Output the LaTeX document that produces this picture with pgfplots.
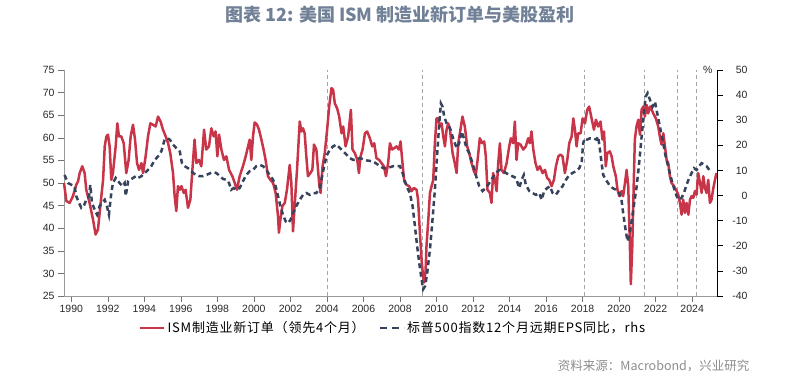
\documentclass[border=0pt]{standalone}
\usepackage{pgfplots}
\pgfplotsset{compat=1.18}
\usepackage{fontspec}
\setmainfont{Liberation Sans}
\newfontfamily\cjk{Noto Sans CJK SC}
\newfontfamily\cjkleg[LetterSpace=6]{Noto Sans CJK SC}
\definecolor{ismred}{RGB}{200,52,72}
\definecolor{epsblue}{RGB}{55,66,92}
\definecolor{titlecol}{RGB}{112,128,150}
\definecolor{srccol}{RGB}{140,140,140}
\definecolor{ticktxt}{RGB}{40,40,40}
\begin{document}
\begin{tikzpicture}
\path[use as bounding box] (0,0) rectangle (801bp,-379bp);
\node[font={\cjk\bfseries\fontsize{18bp}{20bp}\selectfont}, text=titlecol] at (400bp,-15bp) {图表 12: 美国 ISM 制造业新订单与美股盈利};
\node[font={\cjk\fontsize{12.5bp}{14bp}\selectfont}, text=srccol, anchor=east] at (753bp,-366bp) {资料来源：Macrobond，兴业研究};
\begin{axis}[
  at={(64bp,-296bp)}, anchor=south west,
  width=653bp, height=226bp, scale only axis,
  xmin=1989.6, xmax=2025.36, ymin=25, ymax=75,
  axis x line*=bottom, axis y line*=left,
  x axis line style={-, draw=gray!80}, y axis line style={-, draw=gray!80},
  tick align=outside, major tick length=6bp,
  tick style={draw=gray!90!black, line width=0.6bp},
  xtick={1990,1992,...,2024}, ytick={25,30,...,75},
  /pgf/number format/assume math mode=true,
  /pgf/number format/1000 sep={},
  ticklabel style={font=\fontsize{10.5bp}{12bp}\selectfont, text=ticktxt},
  legend style={at={(0.504,-0.141)}, anchor=center, draw=none, fill=none,
    legend columns=2, font={\cjkleg\fontsize{13bp}{15bp}\selectfont},
    /tikz/every even column/.append style={column sep=12bp}},
  legend image code/.code={\draw[#1] (0bp,0bp) -- (24bp,0bp);},
  clip=false,
]
\addplot[gray!70, line width=0.8bp, dash pattern=on 4bp off 3bp, forget plot] coordinates {(2004.05,25) (2004.05,75)};
\addplot[gray!70, line width=0.8bp, dash pattern=on 4bp off 3bp, forget plot] coordinates {(2009.2,25) (2009.2,75)};
\addplot[gray!70, line width=0.8bp, dash pattern=on 4bp off 3bp, forget plot] coordinates {(2018.1,25) (2018.1,75)};
\addplot[gray!70, line width=0.8bp, dash pattern=on 4bp off 3bp, forget plot] coordinates {(2021.4,25) (2021.4,75)};
\addplot[gray!70, line width=0.8bp, dash pattern=on 4bp off 3bp, forget plot] coordinates {(2023.2,25) (2023.2,75)};
\addplot[gray!70, line width=0.8bp, dash pattern=on 4bp off 3bp, forget plot] coordinates {(2024.25,25) (2024.25,75)};
\addplot[ismred, line width=2.5bp, line join=round] table {
1989.6 50.0
1989.73 46.0
1989.91 45.6
1990.09 47.1
1990.27 49.6
1990.37 50.4
1990.46 52.2
1990.60 53.7
1990.73 52.2
1990.82 48.5
1991.00 45.6
1991.19 41.9
1991.33 38.6
1991.46 39.7
1991.59 44.9
1991.74 50.7
1991.83 58.1
1991.92 60.3
1992.01 60.7
1992.10 58.1
1992.19 50.7
1992.28 52.2
1992.43 58.1
1992.52 63.2
1992.61 60.3
1992.74 60.3
1992.87 58.8
1993.01 52.2
1993.14 55.1
1993.25 60.3
1993.38 62.9
1993.49 59.6
1993.60 54.4
1993.71 52.9
1993.84 54.4
1993.93 52.2
1994.07 55.9
1994.20 60.3
1994.33 63.2
1994.47 62.9
1994.62 62.5
1994.75 64.7
1994.89 63.6
1995.02 61.8
1995.17 60.3
1995.30 58.8
1995.42 56.6
1995.57 52.2
1995.66 47.1
1995.75 43.8
1995.84 49.3
1995.94 48.5
1996.03 49.3
1996.16 47.8
1996.26 48.5
1996.39 44.5
1996.52 46.3
1996.63 52.9
1996.75 59.6
1996.85 54.4
1996.99 55.1
1997.12 53.7
1997.27 61.8
1997.39 57.4
1997.54 58.1
1997.67 62.1
1997.80 60.3
1997.90 61.4
1998.00 55.9
1998.09 60.7
1998.22 57.4
1998.36 55.1
1998.49 55.9
1998.64 52.9
1998.82 51.5
1998.95 50.0
1999.07 48.5
1999.22 51.5
1999.40 53.7
1999.55 55.9
1999.68 58.1
1999.77 59.6
1999.86 55.1
1999.95 60.3
2000.04 63.4
2000.17 62.9
2000.28 61.8
2000.41 59.6
2000.53 57.4
2000.64 55.1
2000.77 51.5
2000.90 50.7
2001.05 50.0
2001.19 47.8
2001.32 42.6
2001.37 39.0
2001.45 41.9
2001.56 44.9
2001.69 45.6
2001.81 48.5
2001.96 54.0
2002.05 50.0
2002.14 39.3
2002.23 44.9
2002.36 52.9
2002.51 63.6
2002.60 61.4
2002.69 62.1
2002.78 61.0
2002.87 55.9
2002.96 51.5
2003.09 52.2
2003.20 52.9
2003.29 58.5
2003.42 57.4
2003.57 50.0
2003.65 47.8
2003.76 53.7
2003.88 56.6
2004.01 61.8
2004.12 66.9
2004.25 71.0
2004.34 70.6
2004.43 67.6
2004.56 66.5
2004.67 64.7
2004.80 61.0
2004.89 62.5
2005.02 58.1
2005.16 60.3
2005.31 66.2
2005.40 57.4
2005.53 56.6
2005.66 55.1
2005.75 52.2
2005.84 55.9
2005.95 57.4
2006.08 61.0
2006.20 61.4
2006.35 59.9
2006.48 58.1
2006.59 58.8
2006.71 55.5
2006.86 55.1
2006.99 54.4
2007.12 53.7
2007.23 51.5
2007.35 54.4
2007.45 58.8
2007.57 57.4
2007.68 57.7
2007.81 58.1
2007.94 57.4
2008.03 59.2
2008.12 55.1
2008.23 50.4
2008.36 49.6
2008.50 49.3
2008.63 48.2
2008.76 48.9
2008.91 48.5
2008.99 46.3
2009.09 39.0
2009.18 33.1
2009.27 29.0
2009.33 28.0
2009.40 30.5
2009.45 36.0
2009.55 41.9
2009.64 47.8
2009.73 49.3
2009.82 50.7
2009.91 58.8
2010.00 64.3
2010.09 64.3
2010.19 62.5
2010.28 63.2
2010.37 60.3
2010.46 58.1
2010.55 61.8
2010.64 63.2
2010.73 62.0
2010.88 56.6
2011.00 54.4
2011.10 52.2
2011.19 58.8
2011.31 61.8
2011.42 64.7
2011.55 62.5
2011.68 58.1
2011.79 56.6
2011.92 54.4
2012.05 52.6
2012.15 51.8
2012.25 55.1
2012.37 59.9
2012.50 58.8
2012.61 59.2
2012.70 55.9
2012.79 48.5
2012.92 47.8
2013.01 45.6
2013.10 52.2
2013.20 50.7
2013.29 48.2
2013.38 54.4
2013.47 58.8
2013.56 52.9
2013.69 52.2
2013.84 54.4
2013.98 58.1
2014.07 59.9
2014.20 58.8
2014.29 63.6
2014.38 55.1
2014.47 58.8
2014.60 58.5
2014.75 57.4
2014.89 58.1
2015.02 59.9
2015.11 58.8
2015.20 61.4
2015.30 57.4
2015.42 54.4
2015.53 52.9
2015.66 53.7
2015.81 52.2
2015.94 52.9
2016.06 51.1
2016.17 50.7
2016.30 49.3
2016.43 50.7
2016.54 53.7
2016.67 55.9
2016.79 56.3
2016.90 55.9
2017.03 52.2
2017.16 55.1
2017.27 58.8
2017.40 60.3
2017.49 64.3
2017.58 61.8
2017.67 58.1
2017.76 61.0
2017.89 61.0
2018.00 64.3
2018.13 63.2
2018.25 66.2
2018.36 66.9
2018.49 64.3
2018.62 61.8
2018.73 64.0
2018.85 62.5
2018.98 63.6
2019.09 59.6
2019.17 61.4
2019.27 53.7
2019.35 56.6
2019.49 57.0
2019.59 55.9
2019.68 53.7
2019.82 51.5
2019.91 48.5
2020.01 47.1
2020.13 48.2
2020.22 47.1
2020.32 50.0
2020.41 52.9
2020.50 49.3
2020.59 36.0
2020.64 27.6
2020.72 36.0
2020.81 51.5
2020.86 59.6
2020.95 62.5
2021.05 64.0
2021.14 60.7
2021.23 66.2
2021.32 66.9
2021.41 64.7
2021.50 67.3
2021.59 65.4
2021.69 66.9
2021.78 66.2
2021.87 65.4
2022.01 64.3
2022.14 62.5
2022.23 60.3
2022.32 58.5
2022.42 61.0
2022.51 58.1
2022.60 55.1
2022.69 54.4
2022.78 51.5
2022.87 50.0
2022.96 49.6
2023.06 48.9
2023.15 48.2
2023.24 47.4
2023.33 45.6
2023.42 43.0
2023.51 46.3
2023.60 43.4
2023.69 45.6
2023.79 43.0
2023.88 46.3
2023.97 47.1
2024.06 46.7
2024.15 48.2
2024.24 47.4
2024.33 52.2
2024.43 50.0
2024.52 47.8
2024.61 51.5
2024.70 48.9
2024.79 47.8
2024.88 50.7
2024.97 45.6
2025.06 46.3
2025.16 48.9
2025.25 50.7
2025.33 52.2
};
\addlegendentry{ISM制造业新订单（领先4个月）}
\addlegendimage{epsblue, line width=2.5bp, dash pattern=on 7bp off 5bp}
\addlegendentry{标普500指数12个月远期EPS同比，rhs}
\end{axis}
\begin{axis}[
  at={(64bp,-296bp)}, anchor=south west,
  width=653bp, height=226bp, scale only axis,
  xmin=1989.6, xmax=2025.36, ymin=-40, ymax=50,
  axis x line=none, axis y line*=right,
  y axis line style={-, draw=black},
  tick align=outside, major tick length=6bp,
  tick style={draw=black, line width=0.6bp},
  ytick={-40,-30,...,50},
  /pgf/number format/assume math mode=true,
  yticklabel style={font=\fontsize{10.5bp}{12bp}\selectfont, text=ticktxt, anchor=east, xshift=28bp},
  clip=false,
]
\addplot[epsblue, line width=2.5bp, dash pattern=on 5bp off 3.5bp] table {
1989.63 8.2
1989.82 5.0
1990.00 4.3
1990.18 3.7
1990.27 -0.2
1990.42 -2.9
1990.55 -4.9
1990.68 -4.2
1990.82 -1.7
1990.97 -0.2
1991.04 4.3
1991.13 -2.9
1991.28 -5.6
1991.41 -7.6
1991.55 -4.2
1991.70 -2.9
1991.83 -1.7
1991.95 -4.2
1992.06 -7.6
1992.19 1.0
1992.28 5.0
1992.43 7.0
1992.56 5.7
1992.65 5.0
1992.79 3.7
1992.92 5.0
1992.98 -0.2
1993.11 5.7
1993.23 6.3
1993.38 7.0
1993.53 7.7
1993.65 7.0
1993.84 7.7
1994.02 9.0
1994.20 10.2
1994.38 11.7
1994.57 14.2
1994.75 15.6
1994.93 17.6
1995.11 22.3
1995.24 22.8
1995.39 22.3
1995.57 20.3
1995.75 18.9
1995.94 17.6
1996.06 12.9
1996.21 11.7
1996.39 10.9
1996.58 9.7
1996.66 9.0
1996.85 8.2
1997.03 7.7
1997.21 7.7
1997.39 8.2
1997.58 8.8
1997.76 9.3
1997.94 9.0
1998.12 7.9
1998.31 6.6
1998.49 6.3
1998.64 5.0
1998.76 2.3
1998.89 3.0
1999.04 2.3
1999.22 3.0
1999.40 5.7
1999.58 8.2
1999.77 9.7
1999.95 10.2
2000.13 11.7
2000.32 12.2
2000.50 11.7
2000.68 10.2
2000.86 8.2
2001.05 6.3
2001.19 3.7
2001.32 -0.2
2001.45 -4.2
2001.59 -7.6
2001.74 -10.3
2001.87 -11.0
2002.01 -9.6
2002.14 -6.9
2002.32 -4.2
2002.51 -1.7
2002.69 0.3
2002.87 1.0
2003.06 0.3
2003.24 1.0
2003.42 1.0
2003.60 3.0
2003.76 8.6
2003.88 12.9
2004.01 16.3
2004.16 18.3
2004.34 19.6
2004.52 20.3
2004.71 18.9
2004.89 17.6
2005.07 16.3
2005.25 14.9
2005.44 14.2
2005.62 14.5
2005.80 14.9
2005.98 14.5
2006.17 14.0
2006.35 13.8
2006.53 13.6
2006.71 12.7
2006.90 11.8
2007.08 10.9
2007.26 10.9
2007.45 11.3
2007.63 11.7
2007.81 11.8
2008.00 11.7
2008.14 9.0
2008.27 5.7
2008.40 3.0
2008.54 1.0
2008.69 -4.2
2008.82 -12.3
2008.94 -20.2
2009.05 -26.7
2009.18 -33.3
2009.27 -37.3
2009.38 -36.0
2009.49 -30.8
2009.64 -21.5
2009.78 -9.6
2009.91 2.3
2010.04 16.9
2010.15 28.8
2010.24 36.7
2010.33 35.4
2010.42 31.5
2010.55 28.8
2010.73 27.0
2010.91 22.8
2011.10 18.9
2011.24 20.8
2011.37 25.5
2011.50 22.8
2011.64 18.9
2011.79 16.9
2011.97 12.9
2012.15 8.2
2012.34 3.7
2012.52 1.8
2012.70 3.0
2012.89 5.0
2013.07 7.0
2013.25 9.0
2013.43 10.2
2013.62 9.7
2013.80 9.0
2013.98 8.2
2014.16 7.7
2014.35 7.0
2014.53 3.0
2014.66 6.3
2014.78 8.2
2014.89 4.3
2015.08 1.8
2015.26 1.0
2015.44 0.3
2015.63 1.0
2015.75 -1.7
2015.90 1.8
2016.06 3.0
2016.21 3.7
2016.36 1.0
2016.54 0.3
2016.72 2.3
2016.90 3.7
2017.09 6.3
2017.27 8.2
2017.45 9.0
2017.63 9.7
2017.82 10.9
2017.95 13.5
2018.03 20.8
2018.12 22.8
2018.25 22.3
2018.40 22.8
2018.58 22.8
2018.76 22.3
2018.85 23.5
2018.95 18.3
2019.04 12.9
2019.13 8.2
2019.27 6.3
2019.46 4.3
2019.64 3.0
2019.82 2.3
2020.01 1.0
2020.13 -1.7
2020.22 -6.9
2020.35 -13.5
2020.46 -18.2
2020.59 -14.8
2020.72 -8.3
2020.83 -2.9
2020.96 3.7
2021.08 11.7
2021.19 20.3
2021.32 30.2
2021.45 39.4
2021.56 40.8
2021.69 38.1
2021.83 35.4
2021.96 37.4
2022.09 32.7
2022.23 27.5
2022.38 22.3
2022.51 16.9
2022.64 12.9
2022.75 9.7
2022.87 6.3
2023.00 3.0
2023.15 -0.2
2023.27 -1.7
2023.42 -0.9
2023.55 1.0
2023.69 4.3
2023.84 7.0
2023.97 9.0
2024.10 10.9
2024.24 10.2
2024.39 11.8
2024.52 12.9
2024.64 12.4
2024.79 11.7
2024.94 10.2
};
\node[font=\fontsize{10.5bp}{12bp}\selectfont, text=ticktxt, anchor=east] at (rel axis cs:1,1) [xshift=-1bp] {\%};
\end{axis}
\end{tikzpicture}
\end{document}
